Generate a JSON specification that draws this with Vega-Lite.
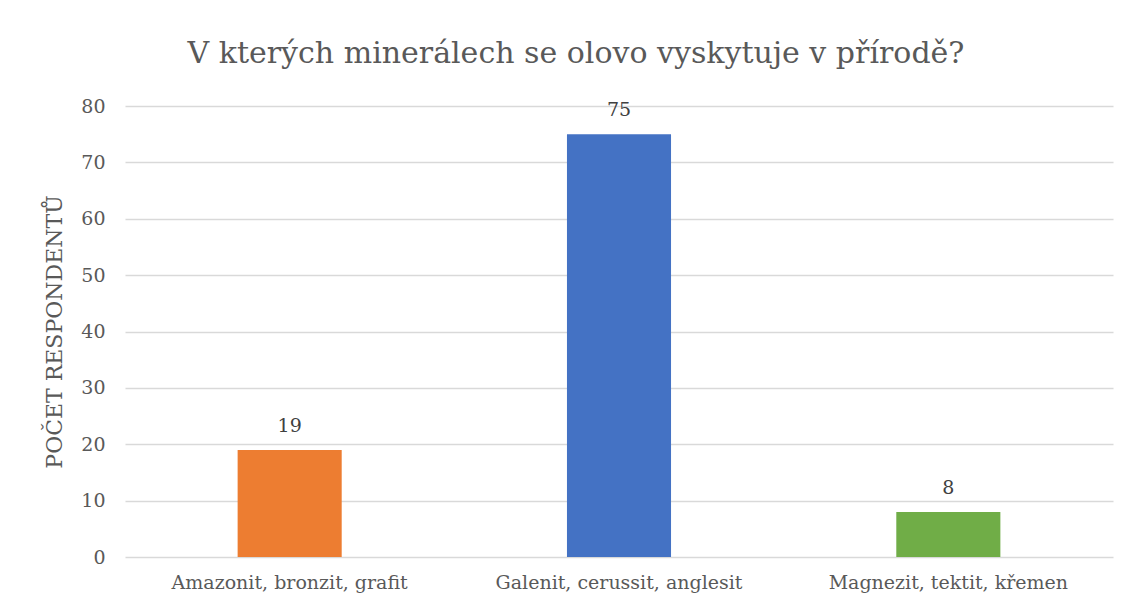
{
  "$schema": "https://vega.github.io/schema/vega-lite/v6.json",
  "width": 988,
  "height": 451,
  "autosize": "none",
  "padding": {"left": 125, "top": 106, "right": 19, "bottom": 50},
  "background": "white",
  "config": {
    "view": {"stroke": null},
    "font": "DejaVu Serif"
  },
  "title": {
    "text": "V kterých minerálech se olovo vyskytuje v přírodě?",
    "font": "DejaVu Serif",
    "fontSize": 30,
    "fontWeight": "normal",
    "color": "#595959",
    "anchor": "middle",
    "dx": -43,
    "offset": 28
  },
  "data": {
    "values": [
      {"odpoved": "Amazonit, bronzit, grafit", "pocet": 19},
      {"odpoved": "Galenit, cerussit, anglesit", "pocet": 75},
      {"odpoved": "Magnezit, tektit, křemen", "pocet": 8}
    ]
  },
  "encoding": {
    "x": {
      "field": "odpoved",
      "type": "nominal",
      "sort": null,
      "scale": {"paddingInner": 0.684, "paddingOuter": 0.342},
      "axis": {
        "title": null,
        "labelAngle": 0,
        "labelFont": "DejaVu Serif",
        "labelFontSize": 19,
        "labelColor": "#595959",
        "labelPadding": 16,
        "labelLimit": 400,
        "ticks": false,
        "domain": false
      }
    },
    "y": {
      "field": "pocet",
      "type": "quantitative",
      "scale": {"domain": [0, 80]},
      "axis": {
        "title": "POČET RESPONDENTŮ",
        "titleFont": "DejaVu Serif",
        "titleFontSize": 22,
        "titleFontWeight": "normal",
        "titleColor": "#595959",
        "titlePadding": 14,
        "values": [0, 10, 20, 30, 40, 50, 60, 70, 80],
        "labelFont": "DejaVu Serif",
        "labelFontSize": 19,
        "labelColor": "#595959",
        "labelPadding": 20,
        "ticks": false,
        "domain": false,
        "gridColor": "#d9d9d9",
        "gridWidth": 1.5
      }
    }
  },
  "layer": [
    {
      "mark": {"type": "bar"},
      "encoding": {
        "color": {
          "field": "odpoved",
          "type": "nominal",
          "sort": null,
          "scale": {"range": ["#ED7D31", "#4472C4", "#70AD47"]},
          "legend": null
        }
      }
    },
    {
      "mark": {"type": "text", "baseline": "bottom", "dy": -14, "fontSize": 19, "font": "DejaVu Serif", "color": "#404040"},
      "encoding": {"text": {"field": "pocet", "type": "quantitative"}}
    }
  ]
}
